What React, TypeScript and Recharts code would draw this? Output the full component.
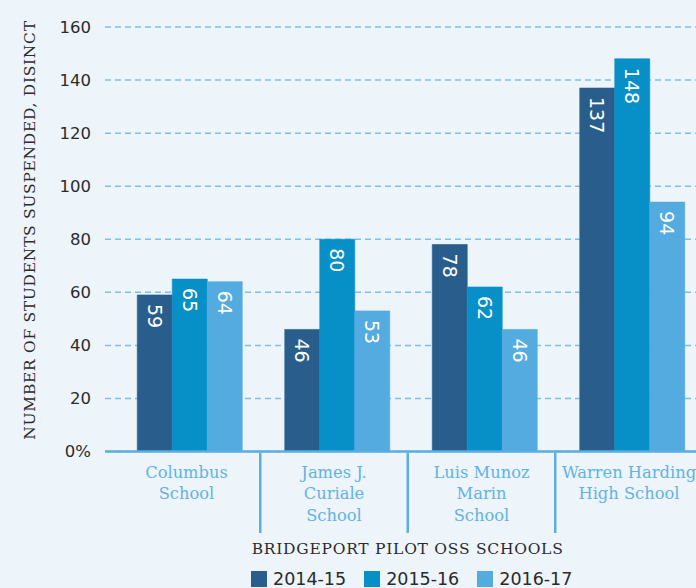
import React from "react";
import { BarChart, Bar, XAxis, YAxis, CartesianGrid, LabelList, Label } from "recharts";

const categories = [
  "Columbus\nSchool",
  "James J.\nCuriale\nSchool",
  "Luis Munoz\nMarin\nSchool",
  "Warren Harding\nHigh School",
];
const seriesNames = ["2014-15", "2015-16", "2016-17"];
const values2014 = [59, 46, 78, 137];
const values2015 = [65, 80, 62, 148];
const values2016 = [64, 53, 46, 94];
const yTicks = [0, 20, 40, 60, 80, 100, 120, 140, 160];

const COLORS = ["#295e8c", "#078fc7", "#53abdf"];
const BG = "#edf4fa";
const AXIS_BLUE = "#5aaee0";
const SLAB = "'DejaVu Serif', serif";
const SQUARE = "'DejaVu Sans', sans-serif";

const data = categories.map((name, i) => ({
  name,
  s0: values2014[i],
  s1: values2015[i],
  s2: values2016[i],
}));

const SHIFT = -3.5;

function CategoryTick(props: any) {
  const { x, y, payload, index } = props;
  const half = payload?.offset ?? 73.75;
  const lines = String(payload.value).split("\n");
  const cx = x + SHIFT;
  return (
    <g>
      {lines.map((l: string, i: number) => (
        <text
          key={i}
          x={cx}
          y={y + 20.5 + i * 21.5}
          textAnchor="middle"
          dominantBaseline="central"
          fill="#62b3e4"
          fontFamily={SLAB}
          fontSize={16.3}
        >
          {l}
        </text>
      ))}
      {index < categories.length - 1 && (
        <line x1={cx + half} x2={cx + half} y1={y + 1.5} y2={y + 81.5} stroke={AXIS_BLUE} strokeWidth={2.5} />
      )}
    </g>
  );
}

function BarValue(props: any) {
  const { x, y, width, value } = props;
  const cx = x + width / 2;
  const ty = y + 9;
  return (
    <text
      x={cx}
      y={ty}
      transform={`rotate(90 ${cx} ${ty})`}
      textAnchor="start"
      dominantBaseline="central"
      fill="#ffffff"
      fontFamily={SQUARE}
      fontSize={19}
    >
      {value}
    </text>
  );
}

export default function App() {
  return (
    <div style={{ position: "fixed", left: 0, top: 0, width: 696, height: 588, overflow: "hidden", background: BG }}>
      <BarChart
        width={712}
        height={588}
        data={data}
        margin={{ top: 27, right: 5.75, left: 0, bottom: 0 }}
        barGap={0}
        barSize={35}
      >
        <CartesianGrid vertical={false} stroke="#7cc0e8" strokeDasharray="6 4" strokeWidth={1.5} />
        <XAxis
          dataKey="name"
          height={136.5}
          padding={{ left: 11.25, right: 0 }}
          axisLine={{ stroke: AXIS_BLUE, strokeWidth: 2.5 }}
          tickLine={false}
          tickSize={0}
          tickMargin={0}
          interval={0}
          tick={<CategoryTick />}
        >
          <Label
            content={({ viewBox }: any) => (
              <text
                x={viewBox.x + viewBox.width / 2 + 2}
                y={viewBox.y + 97.5}
                textAnchor="middle"
                dominantBaseline="central"
                fill="#2b2b2b"
                fontFamily={SLAB}
                fontSize={15.5}
                letterSpacing={0.75}
              >
                BRIDGEPORT PILOT OSS SCHOOLS
              </text>
            )}
          />
        </XAxis>
        <YAxis
          width={105}
          domain={[0, 160]}
          ticks={yTicks}
          axisLine={false}
          tickLine={false}
          tickMargin={8}
          tick={{ fill: "#2b2b2b", fontFamily: SQUARE, fontSize: 16.5 }}
          tickFormatter={(v: number) => (v === 0 ? "0%" : String(v))}
        >
          <Label
            content={({ viewBox }: any) => (
              <text
                x={30}
                y={viewBox.y + 203}
                transform={`rotate(-90 30 ${viewBox.y + 203})`}
                textAnchor="middle"
                dominantBaseline="central"
                fill="#2b2b2b"
                fontFamily={SLAB}
                fontSize={15.5}
                letterSpacing={0.7}
              >
                NUMBER OF STUDENTS SUSPENDED, DISINCT
              </text>
            )}
          />
        </YAxis>
        {["s0", "s1", "s2"].map((k, i) => (
          <Bar
            key={k}
            dataKey={k}
            name={seriesNames[i]}
            fill={COLORS[i]}
            stroke={COLORS[i]}
            strokeWidth={0.6}
            isAnimationActive={false}
          >
            <LabelList dataKey={k} content={<BarValue />} />
          </Bar>
        ))}
      </BarChart>
      <div style={{ position: "absolute", top: 571, left: 251, display: "flex", alignItems: "center", fontFamily: SQUARE, fontSize: 17.5, color: "#2b2b2b" }}>
        {seriesNames.map((n, i) => (
          <div key={n} style={{ display: "flex", alignItems: "center", marginRight: i < seriesNames.length - 1 ? 18 : 0 }}>
            <span style={{ display: "inline-block", width: 16, height: 16, background: COLORS[i], marginRight: 6 }} />
            <span style={{ lineHeight: "16px" }}>{n}</span>
          </div>
        ))}
      </div>
    </div>
  );
}
